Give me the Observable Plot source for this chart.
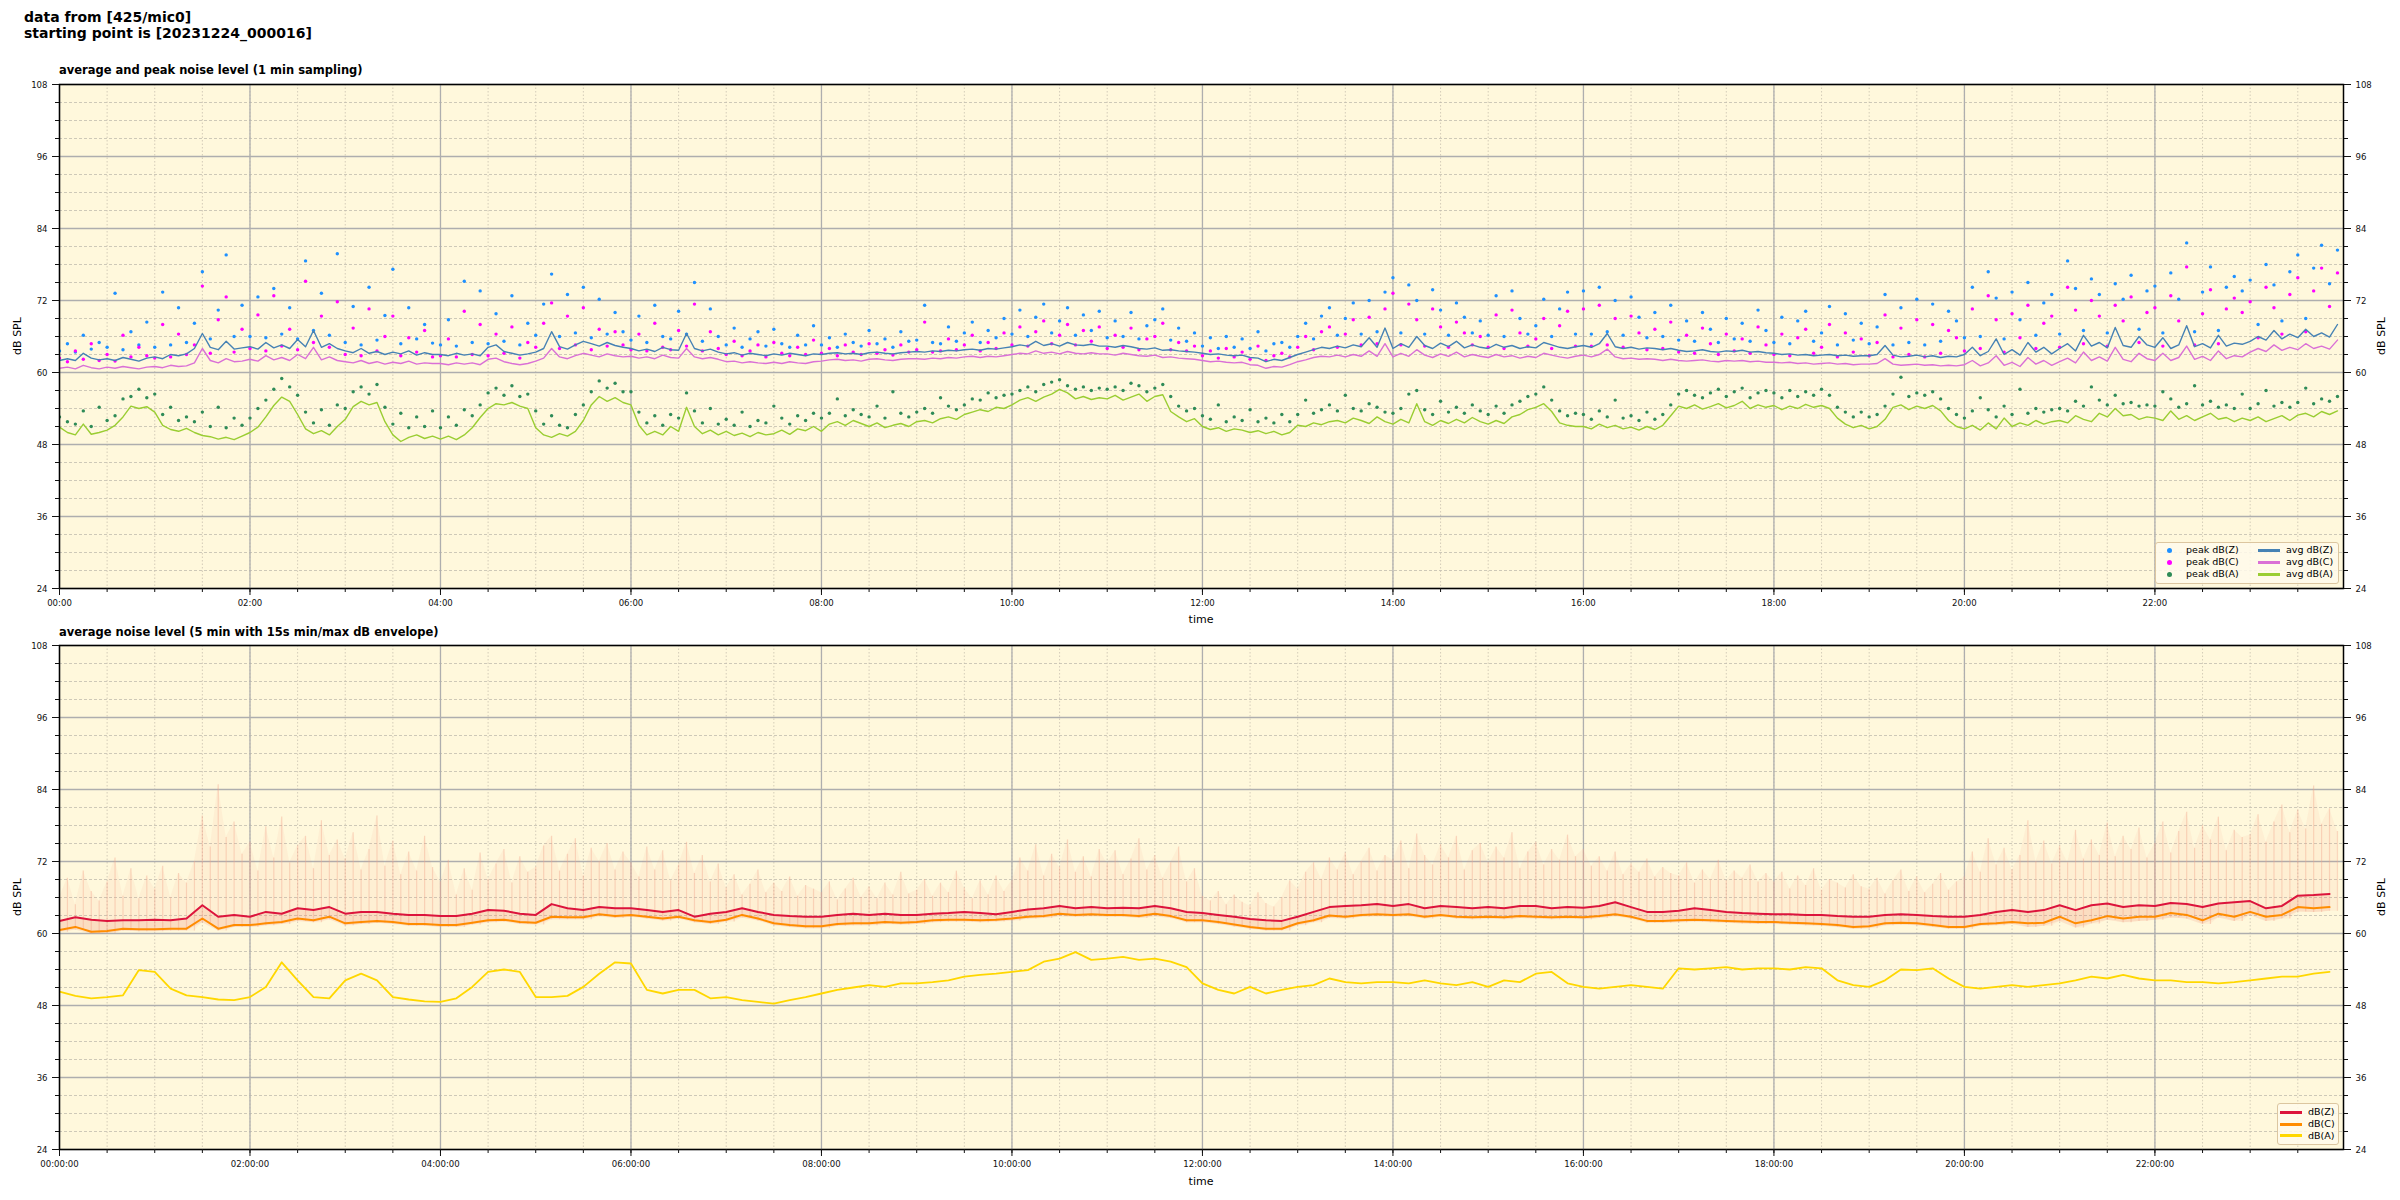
<!DOCTYPE html>
<html><head><meta charset="utf-8">
<script src="https://cdn.jsdelivr.net/npm/d3@7"></script>
<script src="https://cdn.jsdelivr.net/npm/@observablehq/plot@0.6"></script>
<style>
body{margin:0;background:#fff;font-family:"DejaVu Sans",sans-serif;}
#root{position:relative;width:2400px;height:1200px;overflow:hidden;background:#fff;}
.abs{position:absolute;}
.title{left:24px;top:9px;font-weight:bold;font-size:14px;line-height:16px;white-space:pre;}
.sub{font-weight:bold;font-size:11.5px;left:59px;white-space:nowrap;}
.ylab{font-size:11px;width:100px;height:14px;line-height:14px;text-align:center;transform:rotate(-90deg);white-space:nowrap;}
.xlab{font-size:11px;width:100px;text-align:center;}
.legend{background:rgba(255,250,235,0.85);border:1px solid #dcc6a0;border-radius:3px;font-size:9.5px;}
.legend .it{position:absolute;white-space:nowrap;line-height:11px;}
.legend .dot{position:absolute;width:5px;height:5px;border-radius:50%;}
.legend .ln{position:absolute;width:22px;height:3px;}
</style>
</head><body><div id="root"></div>
<script>
// ---------- DATA ----------
// top panel: 1-min sampling, read at 5-minute steps (12 values per hour)
const avgZ = [
62.0,62.3,62.0,63.2,62.4,62.1,62.3,62.0,62.5,62.2,61.9,62.4,
62.6,62.3,63.0,62.8,63.1,64.0,66.5,64.2,63.8,65.2,63.9,64.1,
64.3,63.9,65.0,64.1,64.6,64.0,65.5,64.3,67.0,64.2,64.8,64.0,
63.6,63.3,64.0,63.2,63.5,63.0,63.4,63.1,63.6,62.9,63.3,63.0,
63.0,62.8,63.2,62.9,63.1,62.8,64.2,64.6,63.5,63.2,62.9,63.1,
63.4,64.0,66.8,64.3,63.9,64.6,65.2,64.8,64.4,65.0,64.5,64.2,
64.0,63.6,63.9,63.5,64.2,63.8,63.7,66.5,64.0,63.6,63.9,63.4,
63.1,63.3,62.9,63.2,63.0,62.8,63.1,62.9,63.2,63.0,62.8,63.1,
63.0,63.2,63.3,63.1,63.2,63.0,63.3,63.4,63.2,63.1,63.3,63.4,
63.5,63.4,63.6,63.5,63.7,63.6,63.8,63.9,63.7,64.0,63.9,64.1,
64.3,64.6,64.4,65.2,64.5,64.8,64.4,65.0,64.6,64.5,64.7,64.4,
64.4,64.2,64.5,64.3,64.0,63.9,64.1,63.7,63.8,63.6,63.5,63.4,
63.2,63.0,63.1,62.9,62.8,62.9,62.5,62.4,61.8,62.2,62.0,62.5,
63.0,63.4,63.8,64.2,64.0,64.4,64.1,64.6,64.3,65.8,64.2,67.4,
64.0,64.8,64.2,66.0,64.5,64.0,64.9,64.3,65.2,64.1,64.6,64.2,
64.0,64.7,64.2,64.5,64.0,64.3,64.1,65.0,64.6,64.2,64.0,64.3,
64.5,64.2,64.8,66.5,64.3,64.0,64.2,63.9,64.1,64.0,63.8,64.0,
63.7,63.5,63.6,63.8,63.5,63.4,63.6,63.5,63.7,63.4,63.5,63.3,
63.2,63.0,63.1,62.9,63.0,62.8,62.9,63.0,62.8,62.9,62.7,62.8,
62.8,63.0,64.5,62.9,62.6,62.7,62.9,62.6,62.8,62.5,62.7,62.6,
63.0,64.2,62.8,63.5,65.6,63.0,63.8,62.9,65.0,63.4,64.2,63.1,
64.0,64.8,63.6,66.2,64.4,65.0,64.1,67.5,64.5,64.2,66.0,64.6,
64.2,65.8,64.0,64.6,67.8,64.3,64.8,64.1,66.2,64.4,64.9,64.7,
65.2,66.0,65.4,67.0,65.6,66.4,65.8,67.2,66.0,66.6,65.9,68.0];
const avgC = [
60.7,60.9,60.6,61.2,60.8,60.6,60.9,60.7,61.0,60.8,60.6,60.9,
61.0,60.8,61.2,61.0,61.1,61.6,64.0,62.0,61.6,62.3,61.8,61.9,
62.2,61.9,62.8,62.1,62.5,62.0,63.0,62.3,64.2,62.1,62.6,62.0,
61.8,61.6,62.0,61.5,61.8,61.4,61.7,61.5,61.9,61.4,61.6,61.5,
61.5,61.3,61.6,61.4,61.6,61.3,62.2,62.4,61.8,61.5,61.3,61.5,
61.9,62.4,64.0,62.6,62.3,62.8,63.2,62.9,62.6,63.1,62.8,62.6,
62.7,62.4,62.6,62.3,62.9,62.5,62.4,64.0,62.6,62.3,62.5,62.2,
61.8,61.9,61.6,61.8,61.6,61.5,61.7,61.5,61.8,61.6,61.5,61.8,
61.9,62.1,62.2,62.0,62.1,61.9,62.2,62.3,62.1,62.0,62.2,62.3,
62.3,62.2,62.4,62.3,62.5,62.4,62.6,62.7,62.5,62.7,62.6,62.8,
63.0,63.2,63.1,63.6,63.2,63.4,63.1,63.5,63.2,63.1,63.3,63.1,
63.1,62.9,63.2,63.0,62.8,62.7,62.9,62.5,62.6,62.4,62.3,62.2,
62.0,61.8,61.9,61.7,61.6,61.7,61.3,61.2,60.7,61.0,60.9,61.3,
61.8,62.1,62.5,62.7,62.6,62.9,62.6,63.0,62.7,63.6,62.7,64.8,
62.6,63.2,62.7,63.8,62.9,62.5,63.1,62.7,63.4,62.6,63.0,62.7,
62.5,63.0,62.6,62.8,62.4,62.7,62.5,63.2,62.9,62.6,62.4,62.7,
62.9,62.6,63.0,63.9,62.6,62.3,62.4,62.2,62.3,62.2,62.0,62.2,
62.0,61.9,62.0,62.1,61.9,61.8,62.0,61.9,62.0,61.8,61.9,61.7,
61.7,61.6,61.7,61.5,61.6,61.4,61.5,61.6,61.4,61.5,61.3,61.4,
61.4,61.5,62.3,61.4,61.2,61.3,61.4,61.2,61.3,61.1,61.2,61.1,
61.3,62.0,61.1,61.6,62.8,61.2,61.7,61.0,62.5,61.4,62.0,61.2,
61.8,62.4,61.6,63.4,62.0,62.6,61.9,64.2,62.2,61.8,63.2,62.3,
62.0,63.2,62.0,62.5,64.4,62.2,62.7,62.0,63.6,62.3,62.8,62.6,
63.4,64.0,63.5,64.6,63.7,64.2,63.8,64.8,64.0,64.4,63.9,65.4];
const avgA = [
50.9,50.0,49.6,51.4,49.7,50.0,50.4,51.2,52.6,54.4,54.0,54.3,
53.4,51.2,50.5,50.2,50.7,50.0,49.5,49.3,48.9,49.2,48.8,49.4,
50.0,50.9,52.6,54.5,55.9,55.2,53.0,50.6,49.8,50.3,49.6,51.0,
52.2,54.3,55.2,54.6,55.0,51.8,49.6,48.5,49.2,49.6,49.0,49.4,
48.9,49.4,48.8,49.6,50.8,52.5,54.0,54.8,54.6,55.0,54.4,54.0,
50.8,49.6,49.2,49.8,49.4,50.2,52.0,54.6,56.0,55.2,55.8,55.0,
54.6,51.2,49.6,50.2,49.6,51.0,50.2,54.2,51.0,49.8,50.4,49.6,
50.2,49.5,49.9,49.3,50.0,49.6,49.8,50.4,49.7,50.6,50.3,51.0,
50.2,51.4,51.8,51.2,52.0,51.5,51.0,51.6,50.8,51.2,51.5,51.0,
51.8,52.0,51.6,52.3,52.6,52.2,53.0,53.4,53.8,53.5,54.2,54.0,
54.6,55.4,55.8,55.2,55.9,56.4,57.2,56.6,55.6,56.0,55.5,55.8,
55.6,56.2,55.4,55.9,56.4,55.2,56.0,56.3,53.5,52.6,51.8,52.3,
51.0,50.5,50.8,50.2,50.6,50.4,50.0,50.3,49.8,50.2,49.6,50.0,
51.2,51.0,51.6,51.3,51.8,52.0,51.6,52.4,52.0,51.5,52.6,51.8,
51.4,52.2,51.6,54.8,51.8,51.2,52.0,51.5,52.2,51.6,52.5,51.8,
51.4,52.0,51.5,52.6,53.0,53.8,54.2,54.8,53.5,51.6,51.2,51.0,
51.0,50.6,51.4,50.8,51.2,50.6,50.9,50.4,51.0,50.5,51.2,52.8,
54.4,54.0,54.6,53.9,54.3,54.8,54.1,54.5,55.2,54.0,54.6,54.2,
54.5,53.8,54.4,54.0,54.7,54.2,54.5,54.0,52.4,51.4,50.8,51.2,
50.6,51.0,52.2,54.2,54.6,53.8,54.4,54.0,54.5,53.6,52.0,51.0,
50.6,51.2,50.4,51.6,50.6,52.4,51.0,51.6,51.2,52.0,51.4,51.8,
52.0,51.6,52.8,52.2,51.8,53.2,52.6,54.0,52.8,53.0,52.2,52.6,
52.4,52.0,53.6,52.2,52.8,52.0,52.6,53.2,52.2,52.5,51.8,52.4,
52.0,52.6,51.8,52.3,52.8,52.0,52.9,53.2,52.6,53.5,53.0,53.6];
const peakZ = [
63.6,64.8,63.4,66.2,63.9,65.0,64.2,73.2,63.8,66.8,64.6,68.4,
64.2,73.4,64.6,70.8,65.0,68.2,76.8,65.6,70.4,79.6,66.0,71.2,
66.0,72.6,65.8,74.0,66.4,70.8,65.6,78.6,67.0,73.2,66.2,79.8,
65.0,71.0,64.6,74.2,65.4,69.5,77.2,64.8,70.8,65.6,68.0,64.9,
64.6,68.8,64.4,75.2,65.0,73.6,64.8,69.8,65.2,72.8,64.6,68.2,
66.2,71.4,76.4,66.0,73.0,66.6,74.2,65.8,72.2,66.4,70.0,66.8,
65.4,69.4,65.0,71.2,66.0,65.6,70.2,66.4,75.0,65.2,70.6,66.0,
64.6,67.4,64.2,65.6,66.8,64.4,67.2,64.8,64.2,66.2,64.6,67.8,
64.6,65.8,64.2,66.4,65.0,64.4,67.0,64.8,65.6,64.2,66.8,65.2,
65.4,71.2,65.0,64.8,67.6,65.2,66.6,68.4,65.0,67.0,65.8,69.0,
66.4,70.4,66.0,69.2,71.4,66.6,68.6,70.8,66.2,69.6,67.0,70.2,
65.8,68.6,66.0,70.0,65.6,67.8,68.8,70.6,65.4,67.4,65.2,66.6,
64.4,65.8,64.0,66.0,64.2,65.6,64.0,66.8,63.6,64.8,65.0,64.2,
66.0,68.2,65.6,69.4,70.8,66.2,69.0,71.6,66.4,72.0,66.8,73.4,
75.8,66.6,74.6,72.0,66.4,73.8,70.4,66.2,71.6,69.2,66.6,68.6,
66.2,72.8,66.0,73.6,69.0,66.4,67.8,72.2,66.0,70.6,73.4,66.4,
73.6,66.4,74.2,66.8,72.0,66.2,72.6,69.2,65.8,70.0,66.0,71.2,
65.4,68.6,65.2,70.0,67.2,65.0,69.0,65.6,68.2,65.2,70.4,67.0,
65.0,69.2,64.8,68.6,70.2,65.2,66.6,71.0,64.6,69.8,65.4,68.2,
64.8,67.6,73.0,64.6,70.8,65.0,72.2,64.6,71.4,65.2,70.2,68.6,
65.8,74.2,66.0,76.8,72.4,65.6,73.4,68.8,75.0,66.2,71.6,73.0,
66.4,78.6,74.0,67.0,75.6,73.0,66.6,74.8,72.2,76.2,67.2,73.6,
74.4,66.6,76.6,72.2,81.6,66.8,73.4,77.6,67.0,74.2,76.0,73.6,
75.4,68.0,78.0,74.6,68.6,76.8,79.6,69.0,77.4,81.2,74.8,80.4];
const peakC = [
62.4,61.8,63.6,62.2,64.8,62.0,63.0,61.9,66.2,62.6,64.2,62.8,
62.4,68.0,62.6,66.4,63.0,64.6,74.4,63.2,68.8,72.6,63.4,67.2,
64.0,69.6,63.6,72.8,64.4,67.2,63.8,75.2,65.0,69.4,64.2,71.8,
63.0,67.4,62.8,70.6,63.6,66.0,69.4,62.8,65.8,63.4,67.0,62.6,
62.8,65.6,62.6,70.2,63.0,68.0,62.8,66.4,63.2,67.6,62.4,65.0,
64.2,68.2,71.6,64.0,69.4,64.6,70.8,63.8,67.2,64.4,66.8,64.6,
63.8,66.4,63.6,68.2,64.2,63.8,67.0,64.4,71.4,63.6,66.8,64.0,
63.0,65.2,62.8,63.6,64.6,62.6,65.0,63.2,62.8,64.2,63.0,65.4,
63.2,64.0,62.8,64.6,63.4,63.0,64.8,63.2,63.8,62.9,64.6,63.4,
63.8,68.4,63.4,63.6,65.6,63.8,64.6,66.2,63.6,65.0,64.0,66.6,
64.6,67.6,64.4,66.8,68.6,64.8,66.2,68.0,64.6,67.0,65.2,67.6,
64.0,66.2,64.2,67.4,63.8,65.6,66.0,68.2,63.8,65.0,63.6,64.4,
62.8,63.6,62.4,64.0,62.6,63.4,62.2,64.4,62.0,62.8,63.2,62.6,
64.2,66.0,63.8,66.8,67.6,64.2,66.4,68.8,64.6,69.2,64.8,70.6,
73.2,64.6,71.4,68.8,64.4,70.6,67.6,64.2,68.4,66.6,64.6,66.0,
64.2,69.6,64.0,70.4,66.6,64.4,65.6,69.0,64.0,67.8,70.2,64.4,
70.6,64.4,71.2,64.6,69.0,64.2,69.4,66.6,63.8,67.2,64.0,68.4,
63.4,66.2,63.2,67.4,64.8,63.0,66.4,63.6,65.6,63.2,67.6,64.6,
63.0,66.4,62.8,65.8,67.2,63.2,64.2,68.0,62.6,66.6,63.4,65.6,
62.8,65.0,69.6,62.6,67.4,63.0,68.8,62.6,68.0,63.2,67.0,65.8,
63.6,70.6,64.0,72.8,68.8,63.4,69.8,65.8,71.2,64.0,68.2,69.4,
64.2,74.2,70.4,64.8,72.0,69.4,64.4,71.2,68.6,72.6,65.0,70.0,
70.8,64.4,72.8,68.6,77.6,64.6,69.8,73.8,64.8,70.6,72.4,70.0,
71.8,65.8,74.2,70.8,66.4,73.0,75.8,66.8,73.6,77.4,71.0,76.6];
const peakA = [
52.6,51.8,51.4,53.6,51.0,54.2,52.0,52.8,55.6,56.0,57.2,55.8,
56.4,53.0,54.2,52.0,52.6,51.8,53.4,51.0,54.2,50.8,52.4,51.2,
52.4,54.0,55.4,57.2,59.0,57.6,56.2,53.4,51.6,53.8,51.2,54.6,
54.0,56.8,57.6,56.4,58.0,54.2,51.4,53.2,50.8,52.6,51.0,53.6,
50.8,52.6,51.2,53.8,52.8,54.6,56.6,57.4,56.2,57.8,56.0,56.4,
53.6,51.4,52.8,51.2,50.8,53.0,54.6,56.8,58.6,57.4,58.2,56.8,
56.8,53.4,51.6,52.8,51.2,53.0,52.4,56.6,53.6,51.6,54.0,51.4,
52.2,51.2,53.4,51.0,52.0,51.6,54.4,52.4,51.4,52.8,52.0,53.2,
52.4,53.2,55.6,52.8,53.8,53.0,52.6,54.4,52.4,56.8,53.2,52.6,
53.4,54.0,53.2,55.8,54.4,53.8,54.6,55.6,55.4,56.6,55.8,56.2,
56.4,57.0,57.6,56.8,58.0,58.4,58.8,57.8,57.2,57.6,57.0,57.4,
57.2,57.6,57.0,58.2,57.8,56.8,57.4,58.0,56.0,54.4,53.6,54.0,
52.8,52.2,54.6,51.8,52.6,52.0,53.8,51.8,52.4,51.6,53.0,51.8,
53.0,55.4,53.2,53.8,54.6,53.6,56.2,54.0,53.6,54.8,54.2,53.4,
53.2,54.0,56.4,57.0,53.8,53.0,55.2,53.4,54.2,53.2,54.6,53.6,
53.0,54.4,53.2,54.6,55.2,56.0,56.4,57.6,55.4,53.6,52.8,53.2,
53.0,52.2,53.6,52.6,55.4,52.4,52.8,52.0,53.4,52.2,53.0,54.6,
56.4,57.0,56.2,55.8,56.6,57.2,56.0,56.8,57.4,55.8,56.6,57.0,
56.6,55.8,57.0,56.0,56.8,56.2,57.2,56.2,54.2,53.4,52.6,53.4,
52.6,53.0,54.4,56.4,59.2,56.0,56.6,56.2,56.8,55.6,54.0,53.0,
52.4,53.6,55.8,53.8,52.6,54.4,53.0,57.2,53.2,54.0,53.4,53.8,
54.0,53.6,55.2,54.4,57.6,55.4,54.6,56.2,54.8,55.0,54.4,54.6,
54.4,56.8,55.6,54.2,54.8,57.8,54.6,55.2,54.2,54.6,54.0,56.4,
54.0,54.8,57.0,54.4,55.0,54.2,55.0,57.4,54.8,55.6,55.2,56.0];

// bottom panel: 5-min averages read at 10-minute steps (6 values per hour)
const dbZ = [
62.1,62.7,62.3,62.1,62.2,62.2, 62.3,62.2,62.5,64.7,62.8,63.1,
62.8,63.6,63.3,64.2,63.9,64.4, 63.3,63.6,63.6,63.3,63.1,63.1,
62.9,62.9,63.3,63.9,63.8,63.3, 63.1,64.9,64.2,63.9,64.4,64.2,
64.2,63.9,63.6,63.9,62.8,63.3, 63.6,64.2,63.6,63.1,62.9,62.8,
62.8,63.1,63.3,63.1,63.3,63.1, 63.1,63.3,63.4,63.6,63.4,63.2,
63.6,64.0,64.2,64.6,64.2,64.4, 64.2,64.3,64.2,64.6,64.2,63.6,
63.4,63.1,62.8,62.4,62.2,62.1, 62.8,63.6,64.4,64.6,64.7,64.9,
64.6,64.9,64.2,64.6,64.4,64.2, 64.4,64.2,64.6,64.6,64.2,64.4,
64.3,64.6,65.2,64.4,63.6,63.6, 63.8,64.2,63.9,63.6,63.4,63.3,
63.2,63.2,63.1,63.1,62.9,62.8, 62.8,63.1,63.2,63.1,62.9,62.8,
62.8,63.1,63.6,63.9,63.6,63.9, 64.7,63.9,64.7,65.0,64.4,64.7,
64.6,65.1,64.9,64.4,65.0,65.2, 65.4,64.2,64.6,66.3,66.4,66.6];
const dbC = [
60.6,61.1,60.3,60.4,60.8,60.7, 60.7,60.8,60.8,62.5,60.8,61.4,
61.4,61.7,61.9,62.5,62.2,62.8, 61.7,61.9,62.1,61.9,61.6,61.6,
61.4,61.4,61.8,62.2,62.3,61.9, 61.8,62.8,62.7,62.7,63.2,62.9,
63.1,62.8,62.5,62.8,62.2,61.9, 62.3,63.1,62.5,61.7,61.4,61.2,
61.2,61.6,61.7,61.7,61.9,61.8, 61.9,62.2,62.3,62.3,62.2,62.3,
62.5,62.8,62.9,63.3,63.1,63.2, 63.1,63.1,62.9,63.3,62.9,62.2,
62.2,61.9,61.5,61.1,60.8,60.8, 61.7,62.2,63.0,62.8,63.1,63.2,
63.1,63.2,62.8,63.1,62.8,62.7, 62.8,62.7,62.9,62.8,62.7,62.8,
62.7,62.9,63.2,62.8,62.1,62.1, 62.2,62.3,62.2,62.1,62.0,61.9,
61.9,61.8,61.7,61.6,61.4,61.1, 61.2,61.7,61.8,61.7,61.4,61.1,
61.1,61.6,61.7,61.9,61.7,61.8, 62.8,61.7,62.2,62.9,62.5,62.8,
62.8,63.4,63.1,62.2,63.3,62.8, 63.6,62.8,63.1,64.4,64.2,64.4];
const dbA = [
50.3,49.6,49.2,49.4,49.7,53.9, 53.6,50.8,49.7,49.4,49.0,48.9,
49.4,51.1,55.2,52.2,49.4,49.2, 52.2,53.3,52.2,49.4,49.0,48.7,
48.6,49.2,51.1,53.6,54.0,53.6, 49.4,49.4,49.6,51.1,53.3,55.2,
55.0,50.6,50.0,50.6,50.6,49.2, 49.4,48.9,48.6,48.3,48.9,49.4,
50.0,50.6,51.0,51.4,51.1,51.7, 51.7,51.9,52.2,52.8,53.1,53.3,
53.6,53.9,55.3,55.8,56.9,55.6, 55.8,56.1,55.6,55.8,55.3,54.4,
51.7,50.6,50.0,51.1,50.0,50.6, 51.1,51.4,52.5,51.9,51.7,51.9,
51.9,51.7,52.2,51.7,51.4,51.9, 51.1,52.2,51.9,53.3,53.6,51.7,
51.1,50.8,51.1,51.4,51.1,50.8, 54.2,54.0,54.2,54.4,54.0,54.2,
54.2,54.0,54.4,54.2,52.2,51.4, 51.1,52.2,54.0,53.9,54.2,52.5,
51.1,50.8,51.1,51.4,51.1,51.4, 51.7,52.2,52.8,52.5,53.1,52.5,
52.2,52.2,51.9,51.9,51.7,51.9, 52.2,52.5,52.8,52.8,53.3,53.6];
// 15 s min/max envelope: max read at 5-min steps, min at 10-min steps
const envMax = [
66.0,69.2,64.8,70.4,67.0,65.4,68.6,72.6,66.2,70.8,65.8,69.6,
67.4,71.2,66.0,70.0,68.4,72.0,79.6,74.4,84.8,76.0,78.6,73.2,
75.2,70.4,77.8,72.6,79.4,71.8,74.6,76.2,70.8,78.8,73.0,75.6,
72.4,76.8,70.6,74.0,79.6,71.2,75.4,69.8,73.6,70.4,76.2,71.0,
68.6,72.2,66.4,70.8,67.2,73.4,69.0,71.6,74.0,68.4,72.8,70.2,
71.0,74.6,76.2,70.4,73.2,75.8,69.6,74.2,72.0,75.0,70.6,73.6,
71.8,69.4,74.4,70.6,73.8,68.8,71.4,75.2,70.0,73.0,68.6,71.6,
67.6,69.8,66.4,68.2,70.6,66.8,68.4,67.0,69.4,66.2,68.0,67.4,
66.8,68.6,65.6,67.4,69.2,66.0,67.8,65.8,68.4,66.4,70.2,66.6,
67.2,69.0,66.2,68.4,66.8,70.4,67.6,65.8,68.8,66.4,69.6,67.0,
68.8,72.6,70.4,74.8,69.6,73.2,71.0,75.6,70.2,72.8,69.4,74.0,
71.6,73.8,69.8,72.4,75.8,70.6,73.0,69.2,71.8,74.4,68.6,70.8,
66.2,65.4,67.0,64.8,66.4,65.2,64.6,66.8,65.0,64.4,66.0,68.8,
67.4,70.2,71.8,69.0,72.6,70.6,73.4,69.8,72.0,74.2,70.4,73.0,
72.2,75.4,70.8,76.6,73.0,71.4,74.8,72.6,76.2,70.6,73.8,75.0,
71.8,74.4,72.6,76.8,70.8,73.6,75.2,71.4,74.0,72.2,76.4,72.8,
74.0,71.2,72.8,70.4,73.6,69.8,71.6,70.2,72.4,69.4,71.0,70.0,
69.6,71.8,68.4,70.6,69.0,72.2,68.8,70.4,69.2,71.4,68.6,70.0,
68.6,70.2,67.4,69.6,68.0,70.8,67.2,69.0,68.4,67.6,69.8,67.8,
67.4,69.2,66.6,68.8,70.6,67.0,69.4,66.8,68.2,70.0,67.2,68.6,
69.4,73.6,70.2,75.8,71.4,74.2,70.6,73.0,78.8,72.0,75.4,71.6,
74.6,71.8,77.2,72.4,75.6,73.0,78.4,72.8,76.2,74.0,77.6,72.6,
75.0,78.6,73.4,77.0,80.2,74.2,78.0,75.6,79.4,73.8,77.2,76.0,
76.4,79.8,75.2,78.6,81.4,76.8,80.6,77.4,84.6,78.2,80.8,77.0];
const envMin = [
60.2,60.6,59.9,60.0,60.4,60.3, 60.3,60.4,60.4,61.8,60.4,61.0,
61.0,61.3,61.5,62.0,61.8,62.3, 61.3,61.5,61.7,61.5,61.2,61.2,
61.0,61.0,61.4,61.8,61.9,61.5, 61.4,62.3,62.3,62.3,62.8,62.5,
62.7,62.4,62.1,62.4,61.8,61.5, 61.9,62.6,62.1,61.3,61.0,60.8,
60.8,61.2,61.3,61.3,61.5,61.4, 61.5,61.8,61.9,61.9,61.8,61.9,
62.1,62.4,62.5,62.8,62.7,62.8, 62.7,62.7,62.5,62.8,62.5,61.8,
61.8,61.5,61.1,60.7,60.4,60.4, 61.3,61.8,62.5,62.4,62.7,62.8,
62.7,62.8,62.4,62.7,62.4,62.3, 62.4,62.3,62.5,62.4,62.3,62.4,
62.3,62.5,62.8,62.4,61.7,61.7, 61.8,61.9,61.8,61.7,61.6,61.5,
61.5,61.4,61.3,61.2,61.0,60.7, 60.8,61.3,61.4,61.3,61.0,60.7,
60.7,61.2,61.3,61.5,61.0,61.2, 62.0,60.9,61.6,62.2,61.8,62.0,
62.2,62.6,62.4,61.5,62.6,62.0, 63.0,62.0,62.4,63.6,63.5,63.7];

// axis ticks (hours, dB)
const majorX = [0,2,4,6,8,10,12,14,16,18,20,22];
const minorX = d3.range(0, 24, 0.5);
const majorY = [24,36,48,60,72,84,96,108];
const minorY = d3.range(24, 109, 3);
const xDomain = [0, 23.98];

// ---------- BUILD ----------
const rows = (arr, stepMin) => arr.map((v, i) => ({t: i * stepMin / 60, v}));
const envRows = envMax.map((hi, i) => ({t: i * 5 / 60, hi, lo: envMin[Math.floor(i / 2)]}));
const envLow = envMin.map((lo, i) => ({t: i * 10 / 60, lo, hi: dbZ[i]}));
const pad = h => String(h).padStart(2, "0");

function frameMarks(fmt) {
  return {
    under: [
      Plot.frame({fill: "#fff8dc", stroke: null}),
      Plot.gridX(minorX, {stroke: "#c9c2b0", strokeOpacity: 1, strokeWidth: 0.8, strokeDasharray: "1.5,2"}),
      Plot.gridY(minorY, {stroke: "#c2bcae", strokeOpacity: 1, strokeWidth: 0.8, strokeDasharray: "3,2"}),
      Plot.gridX(majorX, {stroke: "#aeaeae", strokeOpacity: 1, strokeWidth: 1.3}),
      Plot.gridY(majorY, {stroke: "#aeaeae", strokeOpacity: 1, strokeWidth: 1.7})
    ],
    over: [
      Plot.frame({stroke: "#000", strokeWidth: 1.5}),
      Plot.axisX(majorX, {anchor: "bottom", tickSize: 7, tickPadding: 4, tickFormat: fmt, label: null}),
      Plot.axisX(minorX, {anchor: "bottom", tickSize: 4, tickFormat: () => "", label: null}),
      Plot.axisY(majorY, {anchor: "left", tickSize: 7, tickPadding: 5, label: null}),
      Plot.axisY(minorY, {anchor: "left", tickSize: 4, tickFormat: () => "", label: null}),
      Plot.axisY(majorY, {anchor: "right", tickSize: 7, tickPadding: 5, label: null}),
      Plot.axisY(minorY, {anchor: "right", tickSize: 4, tickFormat: () => "", label: null})
    ]
  };
}

const common = {
  width: 2400, height: 570,
  marginTop: 24, marginBottom: 42, marginLeft: 59, marginRight: 57,
  x: {domain: xDomain, axis: null, label: null},
  y: {domain: [24, 108], axis: null, label: null},
  style: {background: "transparent", fontFamily: '"DejaVu Sans Condensed","DejaVu Sans",sans-serif', fontStretch: "condensed", fontSize: "9.5px", color: "#111", overflow: "visible"}
};

const f1 = frameMarks(h => pad(h) + ":00");
const topPlot = Plot.plot({
  ...common,
  marks: [
    ...f1.under,
    Plot.dot(rows(peakZ, 5), {x: "t", y: "v", r: 1.7, fill: "#1e90ff", stroke: null, clip: true}),
    Plot.dot(rows(peakC, 5), {x: "t", y: "v", r: 1.7, fill: "#ff00ff", stroke: null, clip: true}),
    Plot.dot(rows(peakA, 5), {x: "t", y: "v", r: 1.7, fill: "#2e8b57", stroke: null, clip: true}),
    Plot.line(rows(avgZ, 5), {x: "t", y: "v", stroke: "#4682b4", strokeWidth: 1.4, clip: true}),
    Plot.line(rows(avgC, 5), {x: "t", y: "v", stroke: "#da70d6", strokeWidth: 1.4, clip: true}),
    Plot.line(rows(avgA, 5), {x: "t", y: "v", stroke: "#9acd32", strokeWidth: 1.4, clip: true}),
    ...f1.over
  ]
});

const f2 = frameMarks(h => pad(h) + ":00:00");
const bottomPlot = Plot.plot({
  ...common,
  marks: [
    ...f2.under,
    Plot.areaY(envRows, {x: "t", y1: "lo", y2: "hi", fill: "#f08a70", fillOpacity: 0.08, clip: true}),
    Plot.ruleX(envRows, {x: "t", y1: "lo", y2: "hi", stroke: "#f3a48c", strokeOpacity: 0.4, strokeWidth: 1.2, clip: true}),
    Plot.areaY(envLow, {x: "t", y1: "lo", y2: "hi", fill: "#f08a70", fillOpacity: 0.18, clip: true}),
    Plot.line(rows(dbZ, 10), {x: "t", y: "v", stroke: "#dc143c", strokeWidth: 2, clip: true}),
    Plot.line(rows(dbC, 10), {x: "t", y: "v", stroke: "#ff8c00", strokeWidth: 2, clip: true}),
    Plot.line(rows(dbA, 10), {x: "t", y: "v", stroke: "#ffd700", strokeWidth: 1.8, clip: true}),
    ...f2.over
  ]
});

// ---------- LAYOUT ----------
const root = document.getElementById("root");
function add(html, cls, style) {
  const d = document.createElement("div");
  d.className = "abs " + cls;
  d.innerHTML = html;
  Object.assign(d.style, style);
  root.appendChild(d);
  return d;
}
add("data from [425/mic0]\nstarting point is [20231224_000016]", "title", {});
add("average and peak noise level (1 min sampling)", "sub", {top: "63px"});
add("average noise level (5 min with 15s min/max dB envelope)", "sub", {top: "625px"});

topPlot.style.position = "absolute"; topPlot.style.left = "0px"; topPlot.style.top = "60px";
bottomPlot.style.position = "absolute"; bottomPlot.style.left = "0px"; bottomPlot.style.top = "621px";
root.appendChild(topPlot); root.appendChild(bottomPlot);

[336, 897].forEach(cy => {
  add("dB SPL", "ylab", {left: (18 - 50) + "px", top: (cy - 7) + "px"});
  add("dB SPL", "ylab", {left: (2382 - 50) + "px", top: (cy - 7) + "px"});
});
add("time", "xlab", {left: "1151px", top: "613px"});
add("time", "xlab", {left: "1151px", top: "1175px"});

// legends
const lg1 = add("", "legend", {left: "2155px", top: "542px", width: "182px", height: "40px"});
const peakItems = [["peak dB(Z)", "#1e90ff"], ["peak dB(C)", "#ff00ff"], ["peak dB(A)", "#2e8b57"]];
const avgItems = [["avg dB(Z)", "#4682b4"], ["avg dB(C)", "#da70d6"], ["avg dB(A)", "#9acd32"]];
const rowY1 = [7, 19, 31];
peakItems.forEach(([t, c], i) => {
  lg1.insertAdjacentHTML("beforeend",
    `<div class="dot" style="left:11px;top:${rowY1[i] - 2.5}px;background:${c}"></div>` +
    `<div class="it" style="left:30px;top:${rowY1[i] - 6}px">${t}</div>`);
});
avgItems.forEach(([t, c], i) => {
  lg1.insertAdjacentHTML("beforeend",
    `<div class="ln" style="left:102px;top:${rowY1[i] - 1.5}px;background:${c}"></div>` +
    `<div class="it" style="left:130px;top:${rowY1[i] - 6}px">${t}</div>`);
});
const lg2 = add("", "legend", {left: "2277px", top: "1103px", width: "60px", height: "40px"});
const botItems = [["dB(Z)", "#dc143c"], ["dB(C)", "#ff8c00"], ["dB(A)", "#ffd700"]];
const rowY2 = [8, 20, 31.5];
botItems.forEach(([t, c], i) => {
  lg2.insertAdjacentHTML("beforeend",
    `<div class="ln" style="left:2px;top:${rowY2[i] - 1.5}px;background:${c}"></div>` +
    `<div class="it" style="left:30px;top:${rowY2[i] - 6}px">${t}</div>`);
});
</script>
</body></html>
